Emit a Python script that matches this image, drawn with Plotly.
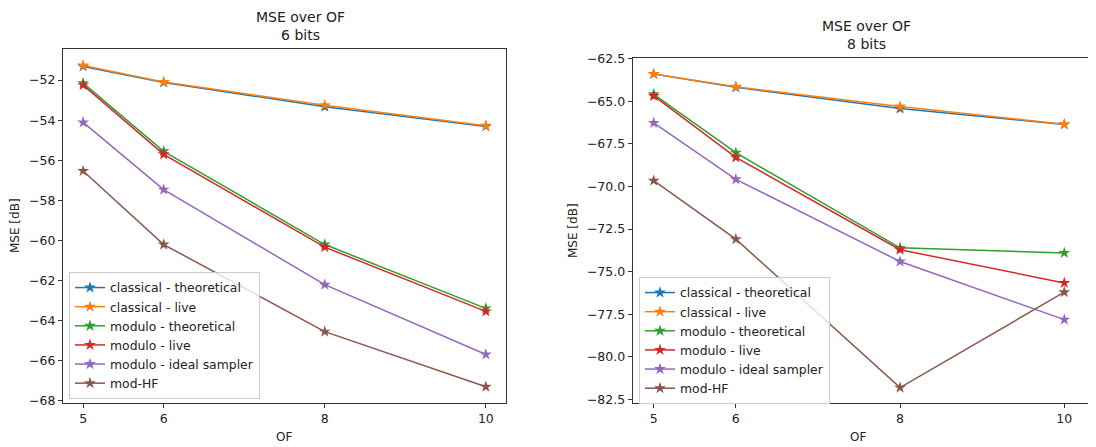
#%% Import
import plotly.graph_objects as go

#%% Data
of_values = [5, 6, 8, 10]
series_names = ["classical - theoretical", "classical - live",
                "modulo - theoretical", "modulo - live",
                "modulo - ideal sampler", "mod-HF"]
colors = ['#1f77b4', '#ff7f0e', '#2ca02c', '#d62728', '#9467bd', '#8c564b']

# 6 bits
mse6_classical_theo = [-51.32, -52.12, -53.33, -54.31]
mse6_classical_live = [-51.27, -52.09, -53.25, -54.28]
mse6_modulo_theo = [-52.15, -55.55, -60.20, -63.38]
mse6_modulo_live = [-52.25, -55.70, -60.33, -63.53]
mse6_modulo_ideal = [-54.11, -57.46, -62.20, -65.68]
mse6_mod_hf = [-56.53, -60.20, -64.54, -67.29]

# 8 bits
mse8_classical_theo = [-63.40, -64.18, -65.43, -66.36]
mse8_classical_live = [-63.40, -64.15, -65.31, -66.35]
mse8_modulo_theo = [-64.59, -68.02, -73.60, -73.90]
mse8_modulo_live = [-64.69, -68.29, -73.71, -75.66]
mse8_modulo_ideal = [-66.27, -69.58, -74.40, -77.81]
mse8_mod_hf = [-69.66, -73.09, -81.80, -76.20]

data6 = [mse6_classical_theo, mse6_classical_live, mse6_modulo_theo,
         mse6_modulo_live, mse6_modulo_ideal, mse6_mod_hf]
data8 = [mse8_classical_theo, mse8_classical_live, mse8_modulo_theo,
         mse8_modulo_live, mse8_modulo_ideal, mse8_mod_hf]

#%% Figure
# the page body keeps its 8px margin, so the figure is drawn 8px smaller
OFF = 8
W, H = 1096 - OFF, 447 - OFF


def px(x):
    return (x - OFF) / W


def py(y):
    return 1 - (y - OFF) / H


fig = go.Figure()

for name, color, ys in zip(series_names, colors, data6):
    fig.add_trace(go.Scatter(x=of_values, y=ys, name=name, mode='lines+markers',
                             line=dict(color=color, width=1.5),
                             marker=dict(symbol='star', size=9, color=color),
                             xaxis='x', yaxis='y', legend='legend'))

for name, color, ys in zip(series_names, colors, data8):
    fig.add_trace(go.Scatter(x=of_values, y=ys, name=name, mode='lines+markers',
                             line=dict(color=color, width=1.5),
                             marker=dict(symbol='star', size=9, color=color),
                             xaxis='x2', yaxis='y2', legend='legend2'))

axis_style = dict(showline=True, linecolor='#333333', linewidth=1,
                  ticks='outside', ticklen=4, tickcolor='#333333',
                  showgrid=False, zeroline=False, automargin=False,
                  tickfont=dict(size=12.5, color='#222222'))

legend_style = dict(xanchor='left', yanchor='top',
                    bgcolor='rgba(255,255,255,0.8)', bordercolor='#cccccc',
                    borderwidth=1, font=dict(size=12.4, color='#222222'),
                    tracegroupgap=0)

fig.update_layout(
    width=W, height=H,
    margin=dict(l=0, r=0, t=0, b=0, autoexpand=False),
    plot_bgcolor='white', paper_bgcolor='white',
    font=dict(family='DejaVu Sans', size=12, color='#222222'),
    xaxis=dict(domain=[px(63), px(506)], range=[4.75, 10.25],
               tickvals=of_values, mirror=True, anchor='y', **axis_style),
    yaxis=dict(domain=[py(403), py(49)], range=[-68.1, -50.45],
               dtick=2, tick0=-68, mirror=True, anchor='x', **axis_style),
    xaxis2=dict(domain=[px(632.7), 1.0], range=[4.744, 10.386],
                tickvals=of_values, mirror=True, anchor='y2', **axis_style),
    yaxis2=dict(domain=[py(403.3), py(58.3)], range=[-82.72, -62.48],
                dtick=2.5, tick0=-82.5, tickformat='.1f', anchor='x2', **axis_style),
    legend=dict(x=px(69), y=py(272), **legend_style),
    legend2=dict(x=px(639), y=py(277), **legend_style),
)

annotations = [
    dict(text='MSE over OF<br>6 bits', x=px(300), y=py(45)),
    dict(text='MSE over OF<br>8 bits', x=px(866), y=py(54)),
]
for a in annotations:
    fig.add_annotation(xref='paper', yref='paper', xanchor='center', yanchor='bottom',
                       showarrow=False, font=dict(size=14, color='#222222'), **a)

# axis labels
labels = [
    dict(text='OF', x=px(284), y=py(437)),
    dict(text='OF', x=px(858), y=py(437)),
    dict(text='MSE [dB]', x=px(15), y=py(226), textangle=-90),
    dict(text='MSE [dB]', x=px(573), y=py(231), textangle=-90),
]
for a in labels:
    fig.add_annotation(xref='paper', yref='paper', xanchor='center', yanchor='middle',
                       showarrow=False, font=dict(size=12), **a)

fig.write_html("out.html")
